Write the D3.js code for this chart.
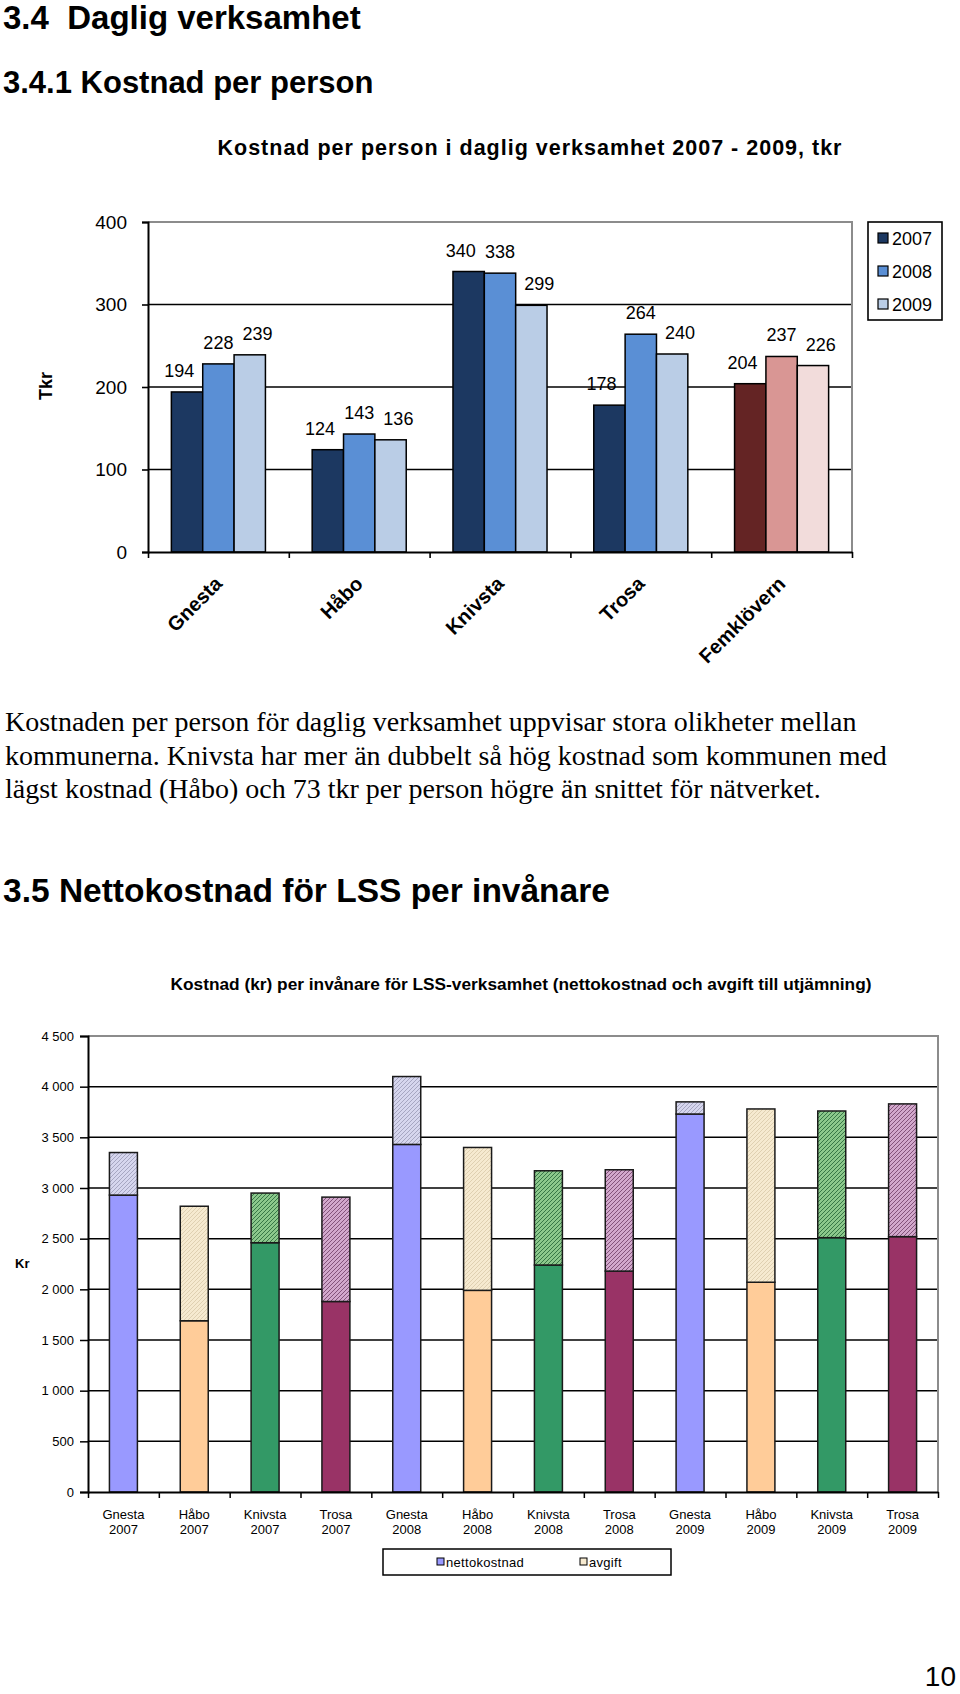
<!DOCTYPE html>
<html>
<head>
<meta charset="utf-8">
<script src="https://cdn.jsdelivr.net/npm/d3@7"></script>
<style>
body { margin: 0; background: #fff; }
svg text { font-family: "Liberation Sans", Arial, sans-serif; fill: #000; }
</style>
</head>
<body>
<svg id="page" width="960" height="1694"></svg>
<script>
// chart 1: kostnad per person, tkr
var KOMMUNER = ['Gnesta', 'Håbo', 'Knivsta', 'Trosa', 'Femklövern'];
var AR = ['2007', '2008', '2009'];
var V2007 = [194, 124, 340, 178, 204];
var V2008 = [228, 143, 338, 264, 237];
var V2009 = [239, 136, 299, 240, 226];
var TICKS_1 = [0, 100, 200, 300, 400];

// chart 2: LSS per invånare, kr
var LSS_KOMMUNER = ['Gnesta', 'Håbo', 'Knivsta', 'Trosa'];
var LSS_AR = ['2007', '2008', '2009'];
var NETTO = [2930, 1690, 2460, 1880, 3430, 1990, 2240, 2180, 3730, 2070, 2510, 2520];
var AVGIFT = [420, 1130, 490, 1030, 670, 1410, 930, 1000, 120, 1710, 1250, 1310];
var TICKS_2 = [0, 500, 1000, 1500, 2000, 2500, 3000, 3500, 4000, 4500];

var PARAGRAPH = [
  'Kostnaden per person för daglig verksamhet uppvisar stora olikheter mellan',
  'kommunerna. Knivsta har mer än dubbelt så hög kostnad som kommunen med',
  'lägst kostnad (Håbo) och 73 tkr per person högre än snittet för nätverket.'
];

var BLUES = ['#1C3861', '#5A8FD5', '#BACDE6'];
var REDS = ['#642424', '#D99694', '#F2DCDB'];
var LSS_SOLID = ['#9999FF', '#FFCC99', '#339966', '#993366'];
var LSS_HATCH = [['#D6D6EE', '#a0a0bc'], ['#F6EAD0', '#dccdae'], ['#8CC88C', '#2e6e3e'], ['#D2A8CC', '#7a4a70']];

var svg = d3.select('#page');

function headings(){
  svg.append('text').attr('x', 3).attr('y', 29)
    .attr('xml:space', 'preserve').style('white-space', 'pre')
    .style('font-size', '33px').style('font-weight', 'bold')
    .text('3.4  Daglig verksamhet');
  svg.append('text').attr('x', 3).attr('y', 93)
    .style('font-size', '31px').style('font-weight', 'bold')
    .text('3.4.1 Kostnad per person');
  svg.append('text').attr('x', 3).attr('y', 902)
    .style('font-size', '33.5px').style('font-weight', 'bold')
    .text('3.5 Nettokostnad för LSS per invånare');

  svg.selectAll('.para').data(PARAGRAPH).enter().append('text')
    .attr('class', 'para')
    .attr('x', 5)
    .attr('y', function(d, i){ return 731 + i * 33.5; })
    .style('font-family', '"Liberation Serif", "Times New Roman", serif')
    .style('font-size', '28px')
    .text(function(d){ return d; });

  svg.append('text').attr('x', 956).attr('y', 1686)
    .attr('text-anchor', 'end').style('font-size', '28px').text('10');
}

function chartOne(){
  var left = 148, right = 852, top = 222, bottom = 552;
  var g = svg.append('g');
  var series = [V2007, V2008, V2009];

  var x0 = d3.scaleBand().domain(KOMMUNER).range([left, right])
    .paddingInner(0.332).paddingOuter(0.166);
  var x1 = d3.scaleBand().domain(AR).range([0, x0.bandwidth()]);
  var y = d3.scaleLinear().domain([0, 400]).range([bottom, top]);
  var xb = d3.scaleLinear().domain([0, KOMMUNER.length]).range([left, right]);

  g.append('text').attr('x', 530).attr('y', 155).attr('text-anchor', 'middle')
    .style('font-size', '21.5px').style('font-weight', 'bold').style('letter-spacing', '1px')
    .text('Kostnad per person i daglig verksamhet 2007 - 2009, tkr');

  // grid + frame
  g.selectAll('.grid').data(TICKS_1.slice(1, -1)).enter().append('line')
    .attr('x1', left).attr('x2', right)
    .attr('y1', function(d){ return y(d); }).attr('y2', function(d){ return y(d); })
    .attr('stroke', '#000').attr('stroke-width', 1.6);
  g.append('path')
    .attr('d', 'M' + left + ',' + y(400) + 'H' + right + 'V' + bottom)
    .attr('fill', 'none').attr('stroke', '#8c8c8c').attr('stroke-width', 2);

  var rows = KOMMUNER.map(function(k, i){
    return AR.map(function(a, j){ return {k: k, ar: a, j: j, v: series[j][i], i: i}; });
  });

  var groups = g.selectAll('.grp').data(rows).enter().append('g')
    .attr('transform', function(d, i){ return 'translate(' + x0(KOMMUNER[i]) + ',0)'; });

  groups.selectAll('rect').data(function(d){ return d; }).enter().append('rect')
    .attr('x', function(d){ return x1(d.ar); })
    .attr('width', x1.bandwidth())
    .attr('y', function(d){ return y(d.v); })
    .attr('height', function(d){ return bottom - y(d.v); })
    .attr('fill', function(d){ return d.k === 'Femklövern' ? REDS[d.j] : BLUES[d.j]; })
    .attr('stroke', '#000').attr('stroke-width', 1.5);

  // labels spread a little apart so neighbours do not run together
  var mid = x0.bandwidth() / 2;
  groups.selectAll('.lbl').data(function(d){ return d; }).enter().append('text')
    .attr('x', function(d){ return mid + (x1(d.ar) + x1.bandwidth() / 2 - mid) * 1.25; })
    .attr('y', function(d){ return y(d.v) - 15; })
    .attr('text-anchor', 'middle')
    .style('font-size', '18px')
    .text(function(d){ return d.v; });

  // axes
  var ya = g.append('g').attr('transform', 'translate(' + left + ',0)')
    .call(d3.axisLeft(y).tickValues(TICKS_1).tickSize(6).tickPadding(15));
  ya.select('.domain').attr('stroke', '#000').attr('stroke-width', 2);
  ya.selectAll('.tick line').attr('stroke', '#000').attr('stroke-width', 1.6);
  ya.selectAll('text').style('font-size', '19px').style('font-family', '"Liberation Sans", Arial, sans-serif');

  var xa = g.append('g').attr('transform', 'translate(0,' + bottom + ')')
    .call(d3.axisBottom(xb).ticks(KOMMUNER.length).tickSize(6).tickSizeOuter(0).tickFormat(''));
  xa.select('.domain').attr('stroke', '#000').attr('stroke-width', 2);
  xa.selectAll('.tick line').attr('stroke', '#000').attr('stroke-width', 1.6);

  g.selectAll('.xl').data(KOMMUNER).enter().append('text')
    .attr('text-anchor', 'end')
    .attr('transform', function(d){
      return 'translate(' + (x0(d) + x0.bandwidth() / 2 + 5) + ',' + (bottom + 33) + ') rotate(-45)';
    })
    .style('font-size', '20px').style('font-weight', 'bold')
    .text(function(d){ return d; });

  g.append('text')
    .attr('transform', 'translate(52,386) rotate(-90)')
    .attr('text-anchor', 'middle')
    .style('font-size', '18px').style('font-weight', 'bold')
    .text('Tkr');

  // legend
  var lg = g.append('g');
  lg.append('rect').attr('x', 868).attr('y', 222).attr('width', 74).attr('height', 98)
    .attr('fill', '#fff').attr('stroke', '#000').attr('stroke-width', 1.6);
  var items = lg.selectAll('.li').data(AR).enter().append('g')
    .attr('transform', function(d, i){ return 'translate(878,' + (238 + i * 33) + ')'; });
  items.append('rect').attr('x', 0).attr('y', -5).attr('width', 10).attr('height', 10)
    .attr('fill', function(d, i){ return BLUES[i]; }).attr('stroke', '#000').attr('stroke-width', 1.2);
  items.append('text').attr('x', 14).attr('y', 6.5).style('font-size', '18px')
    .text(function(d){ return d; });
}

function chartTwo(){
  var left = 88, right = 938, top = 1036, bottom = 1492;
  var g = svg.append('g');

  var defs = svg.append('defs');
  LSS_HATCH.forEach(function(c, i){
    var p = defs.append('pattern').attr('id', 'hatch' + i)
      .attr('patternUnits', 'userSpaceOnUse').attr('width', 4).attr('height', 4);
    p.append('rect').attr('width', 4).attr('height', 4).attr('fill', c[0]);
    p.append('path').attr('d', 'M-1,1L1,-1M0,4L4,0M3,5L5,3')
      .attr('stroke', c[1]).attr('stroke-width', 0.9);
  });

  var keys = d3.cross(LSS_AR, LSS_KOMMUNER).map(function(p){ return p[1] + ' ' + p[0]; });
  var data = keys.map(function(k, i){
    return {key: k, kommun: LSS_KOMMUNER[i % LSS_KOMMUNER.length], ar: LSS_AR[Math.floor(i / LSS_KOMMUNER.length)], netto: NETTO[i], avgift: AVGIFT[i]};
  });
  var stacked = d3.stack().keys(['netto', 'avgift'])(data);

  var x = d3.scaleBand().domain(keys).range([left, right]).paddingInner(0.605).paddingOuter(0.3025);
  var y = d3.scaleLinear().domain([0, 4500]).range([bottom, top]);
  var xb = d3.scaleLinear().domain([0, keys.length]).range([left, right]);
  var fmt = d3.formatLocale({decimal: ',', thousands: '\u00a0', grouping: [3], currency: ['', ' kr']}).format(',d');

  g.append('text').attr('x', 521).attr('y', 990).attr('text-anchor', 'middle')
    .style('font-size', '17.3px').style('font-weight', 'bold')
    .text('Kostnad (kr) per invånare för LSS-verksamhet (nettokostnad och avgift till utjämning)');

  g.selectAll('.grid').data(TICKS_2.slice(1, -1)).enter().append('line')
    .attr('x1', left).attr('x2', right)
    .attr('y1', function(d){ return y(d); }).attr('y2', function(d){ return y(d); })
    .attr('stroke', '#000').attr('stroke-width', 1.5);
  g.append('path')
    .attr('d', 'M' + left + ',' + y(4500) + 'H' + right + 'V' + bottom)
    .attr('fill', 'none').attr('stroke', '#8c8c8c').attr('stroke-width', 2);

  var layers = g.selectAll('.layer').data(stacked).enter().append('g');
  layers.selectAll('rect').data(function(s){ return s.map(function(d){ return {s: s.key, d: d}; }); })
    .enter().append('rect')
    .attr('x', function(o){ return x(o.d.data.key); })
    .attr('width', x.bandwidth())
    .attr('y', function(o){ return y(o.d[1]); })
    .attr('height', function(o){ return y(o.d[0]) - y(o.d[1]); })
    .attr('fill', function(o){
      var ki = LSS_KOMMUNER.indexOf(o.d.data.kommun);
      return o.s === 'netto' ? LSS_SOLID[ki] : 'url(#hatch' + ki + ')';
    })
    .attr('stroke', '#1a1a1a').attr('stroke-width', 1.5);

  var ya = g.append('g').attr('transform', 'translate(' + left + ',0)')
    .call(d3.axisLeft(y).tickValues(TICKS_2).tickSize(8).tickPadding(6).tickFormat(fmt));
  ya.select('.domain').attr('stroke', '#000').attr('stroke-width', 2);
  ya.selectAll('.tick line').attr('stroke', '#000').attr('stroke-width', 1.5);
  ya.selectAll('text').style('font-size', '13px').style('font-family', '"Liberation Sans", Arial, sans-serif');

  var xa = g.append('g').attr('transform', 'translate(0,' + bottom + ')')
    .call(d3.axisBottom(xb).ticks(keys.length).tickSize(6).tickSizeOuter(0).tickFormat(''));
  xa.select('.domain').attr('stroke', '#000').attr('stroke-width', 2);
  xa.selectAll('.tick line').attr('stroke', '#000').attr('stroke-width', 1.5);

  var xl = g.selectAll('.xl').data(data).enter().append('text')
    .attr('text-anchor', 'middle').style('font-size', '13px');
  xl.append('tspan')
    .attr('x', function(d){ return x(d.key) + x.bandwidth() / 2; })
    .attr('y', bottom + 27)
    .text(function(d){ return d.kommun; });
  xl.append('tspan')
    .attr('x', function(d){ return x(d.key) + x.bandwidth() / 2; })
    .attr('y', bottom + 42)
    .text(function(d){ return d.ar; });

  g.append('text').attr('x', 15).attr('y', 1268)
    .style('font-size', '13px').style('font-weight', 'bold').text('Kr');

  // legend
  var lg = g.append('g');
  lg.append('rect').attr('x', 383).attr('y', 1549).attr('width', 288).attr('height', 26)
    .attr('fill', '#fff').attr('stroke', '#000').attr('stroke-width', 1.5);
  var li = lg.selectAll('.li').data(['nettokostnad', 'avgift']).enter().append('g')
    .attr('transform', function(d, i){ return 'translate(' + (437 + i * 143) + ',1562)'; });
  li.append('rect').attr('x', 0).attr('y', -4).attr('width', 7).attr('height', 7)
    .attr('fill', function(d, i){ return i === 0 ? LSS_SOLID[0] : LSS_HATCH[1][0]; })
    .attr('stroke', '#000').attr('stroke-width', 1);
  li.append('text').attr('x', 9).attr('y', 4.5)
    .style('font-size', '13px').style('letter-spacing', '0.3px')
    .text(function(d){ return d; });
}

headings();
chartOne();
chartTwo();
</script>
</body>
</html>
